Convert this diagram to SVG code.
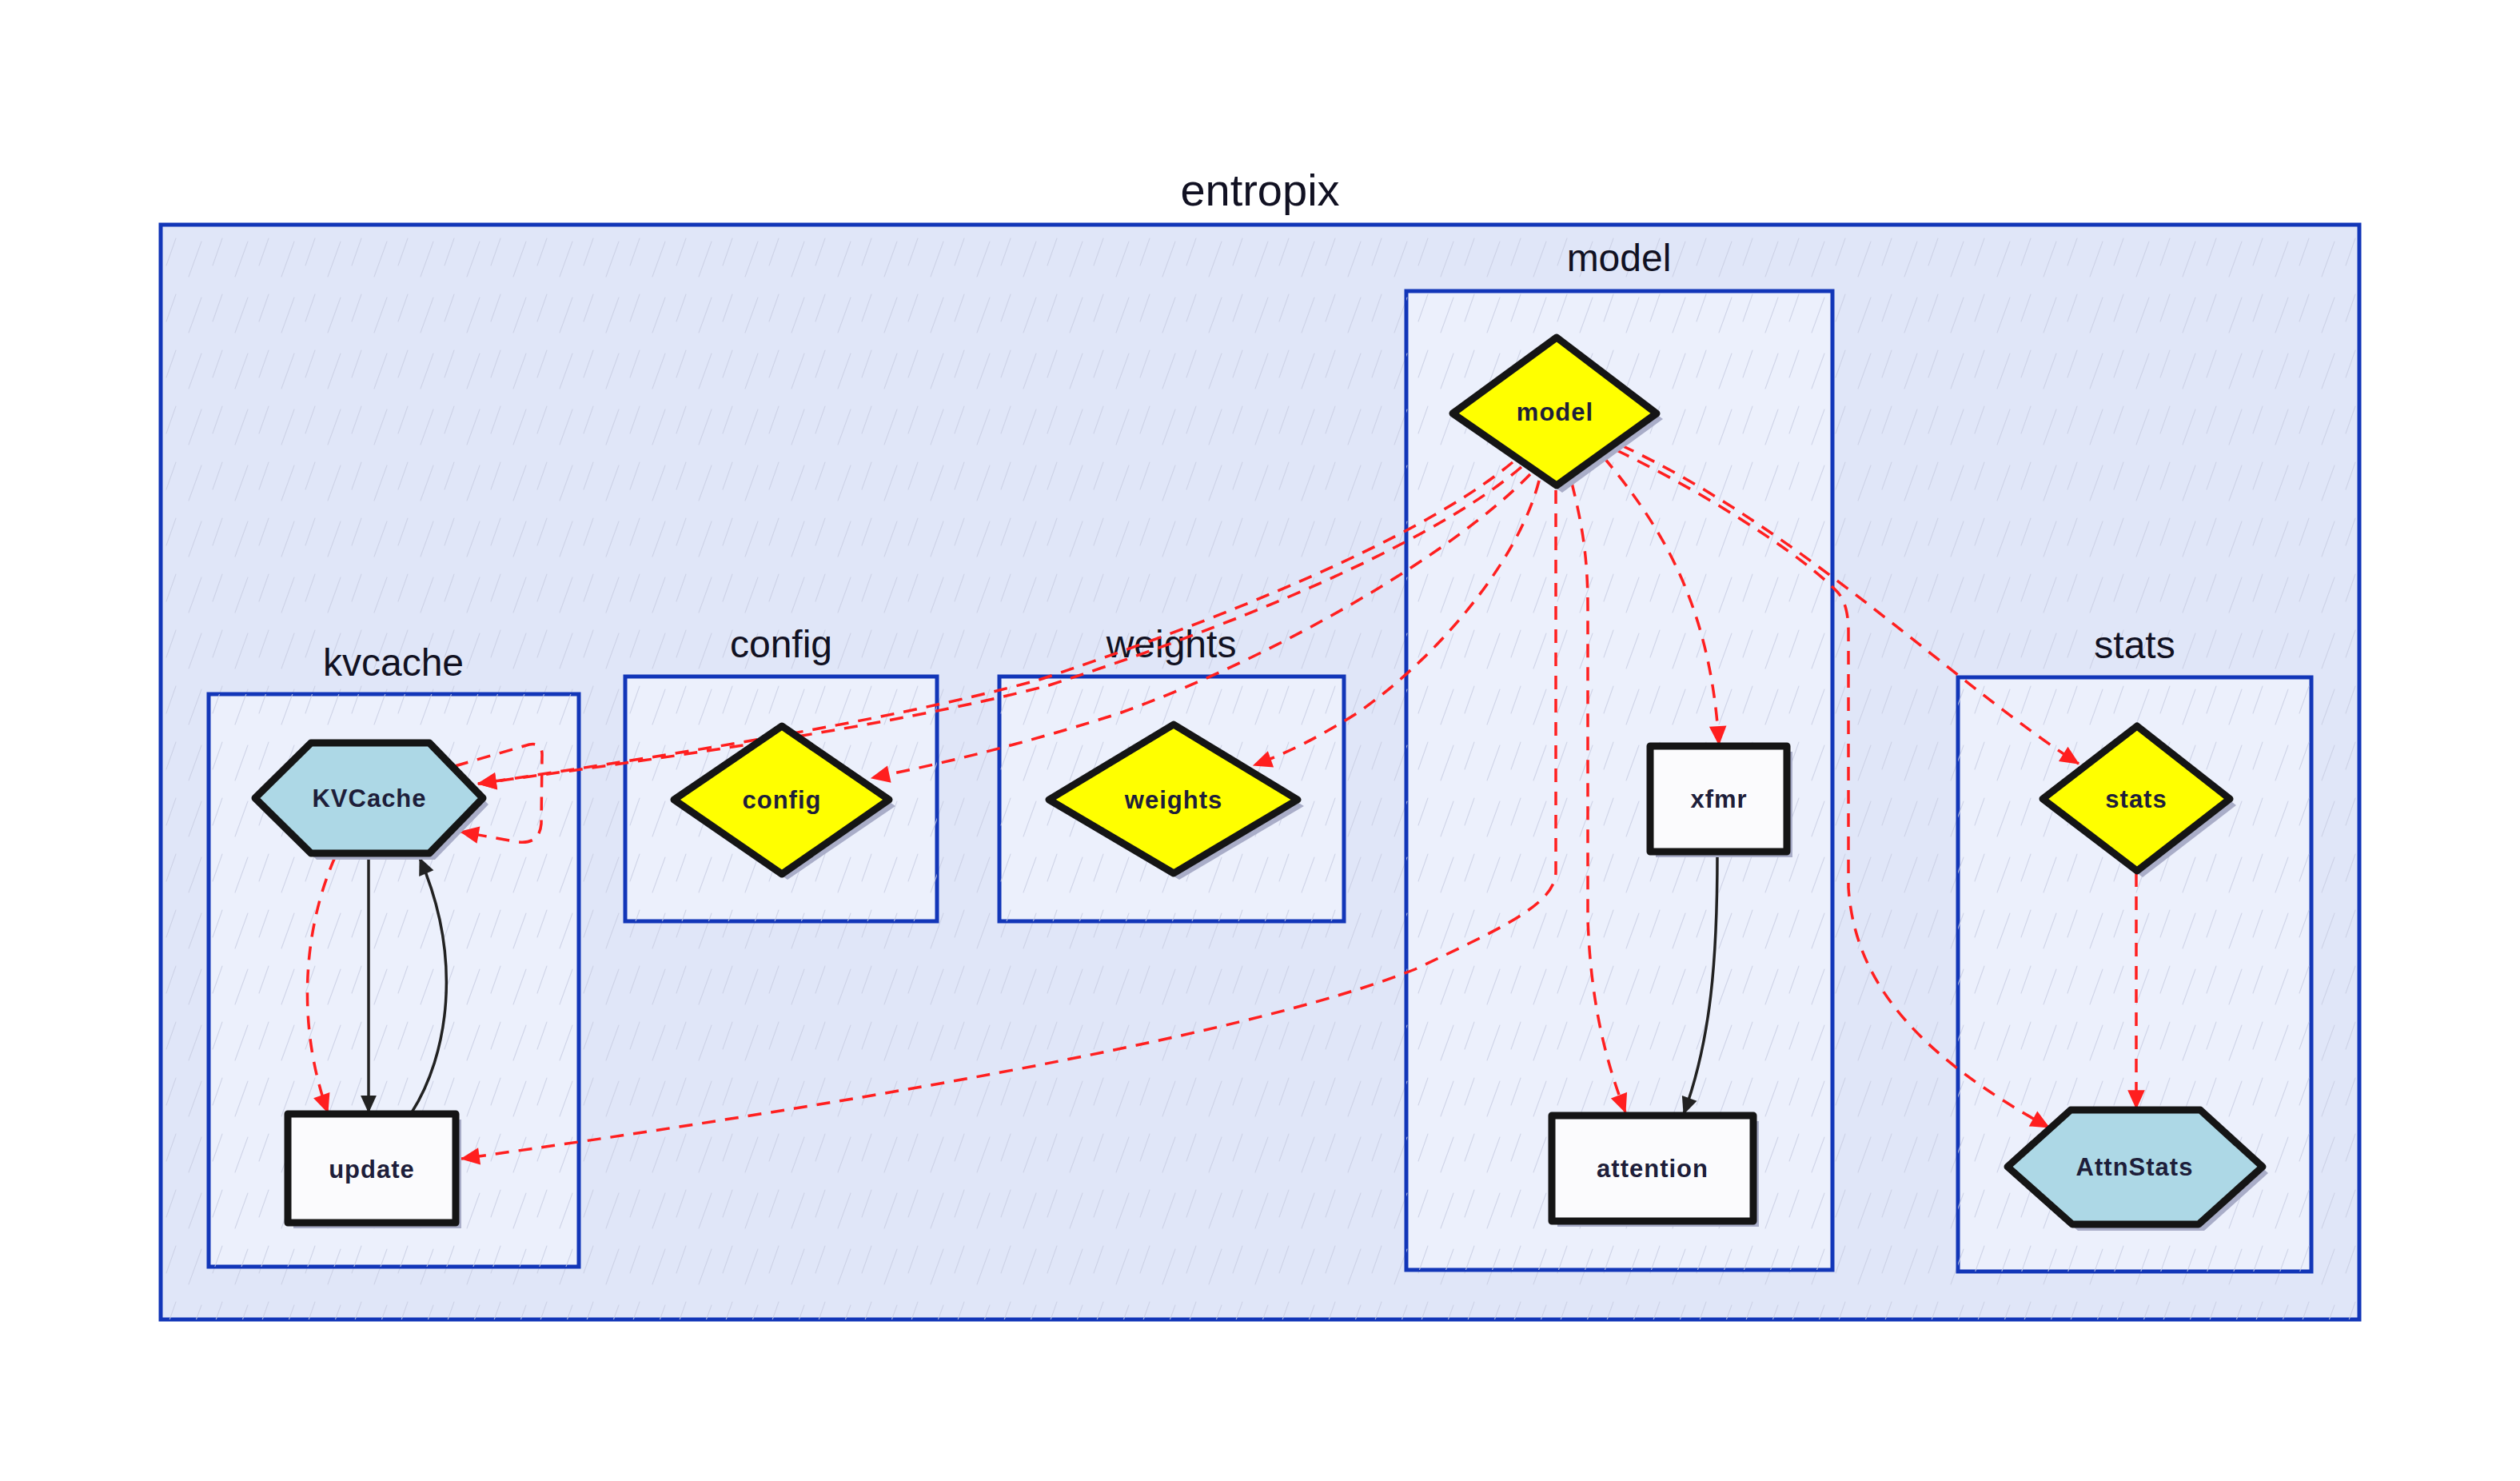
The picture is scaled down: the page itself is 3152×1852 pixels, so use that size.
<svg xmlns="http://www.w3.org/2000/svg" width="3152" height="1852" viewBox="0 0 3152 1852">
<defs>
<pattern id="hatch" patternUnits="userSpaceOnUse" width="58" height="70">
<path d="M4,66 L20,22 M34,52 L46,18" stroke="#c8cde2" stroke-width="1.1" fill="none" stroke-linecap="round"/>
</pattern>
<marker id="ar" viewBox="0 0 10 10" refX="9.5" refY="5" markerUnits="userSpaceOnUse" markerWidth="26" markerHeight="24" orient="auto">
<path d="M0,0.5 L10,5 L0,9.5 z" fill="#ff1f1f"/>
</marker>
<marker id="ak" viewBox="0 0 10 10" refX="9.5" refY="5" markerUnits="userSpaceOnUse" markerWidth="24" markerHeight="22" orient="auto">
<path d="M0,0.5 L10,5 L0,9.5 z" fill="#222"/>
</marker>
<style>
.outer{fill:#e0e6f8;stroke:#1236b8;stroke-width:5}
.inner{fill:#ecf0fc;stroke:#1236b8;stroke-width:5}
.hatch{fill:url(#hatch);stroke:none;opacity:0.8}
.clabel{font-family:"Liberation Sans",Arial,sans-serif;font-size:48px;fill:#111122;text-anchor:middle}
.title{font-size:56px}
.nlabel{font-family:"Liberation Sans",Arial,sans-serif;font-size:31px;font-weight:bold;fill:#1e1e3a;text-anchor:middle;dominant-baseline:central;letter-spacing:1px}
.shadow{fill:#a9adc8;stroke:none}
.node{stroke:#151515;stroke-width:9;stroke-linejoin:round}
.dia{fill:#ffff00}
.hex{fill:#add8e6}
.box{fill:#fbfbfd}
.dash{fill:none;stroke:#ff1f1f;stroke-width:3.5;stroke-dasharray:17 12;marker-end:url(#ar)}
.solid{fill:none;stroke:#222;stroke-width:3.5;marker-end:url(#ak)}
</style>
</defs>
<rect width="3152" height="1852" fill="#ffffff"/>

<g id="cluster-entropix">
<rect class="outer" x="201" y="281" width="2750" height="1369"/>
<rect class="hatch" x="201" y="281" width="2750" height="1369"/>
<text class="clabel title" x="1576" y="257">entropix</text>
</g>
<g id="cluster-kvcache">
<rect class="inner" x="261" y="868" width="463" height="716"/>
<rect class="hatch" x="261" y="868" width="463" height="716"/>
<text class="clabel" x="492" y="845">kvcache</text>
</g>
<g id="cluster-config">
<rect class="inner" x="782" y="846" width="390" height="306"/>
<rect class="hatch" x="782" y="846" width="390" height="306"/>
<text class="clabel" x="977" y="822">config</text>
</g>
<g id="cluster-weights">
<rect class="inner" x="1250" y="846" width="431" height="306"/>
<rect class="hatch" x="1250" y="846" width="431" height="306"/>
<text class="clabel" x="1465" y="822">weights</text>
</g>
<g id="cluster-model">
<rect class="inner" x="1759" y="364" width="533" height="1224"/>
<rect class="hatch" x="1759" y="364" width="533" height="1224"/>
<text class="clabel" x="2025" y="339">model</text>
</g>
<g id="cluster-stats">
<rect class="inner" x="2449" y="847" width="442" height="743"/>
<rect class="hatch" x="2449" y="847" width="442" height="743"/>
<text class="clabel" x="2670" y="823">stats</text>
</g>

<g id="connectors">
<path class="dash" d="M1892,578 C1800,655 1600,750 1300,850 C1100,905 800,950 598,980"/>
<path class="dash" d="M1903,584 C1812,662 1612,760 1312,857 C1110,910 800,952 598,980"/>
<path class="dash" d="M569,958 L662,931 Q679,928 678,946 L677,1030 Q675,1056 648,1053 L576,1040"/>
<path class="dash" d="M1914,593 C1820,690 1600,820 1400,892 C1250,940 1150,960 1090,973"/>
<path class="dash" d="M1925,601 C1900,700 1800,820 1700,890 Q1630,935 1568,957"/>
<path class="dash" d="M1946,613 L1946,1090 C1946,1130 1880,1160 1770,1212 C1550,1300 1000,1390 577,1449"/>
<path class="dash" d="M1966,604 C1980,660 1986,700 1986,760 L1986,1150 C1990,1260 2010,1330 2033,1391"/>
<path class="dash" d="M2006,572 C2080,660 2140,760 2150,931"/>
<path class="dash" d="M2028,557 C2250,660 2450,860 2600,955"/>
<path class="dash" d="M2022,563 C2150,625 2260,700 2298,740 Q2312,755 2312,790 L2312,1110 C2320,1230 2400,1320 2563,1410"/>
<path class="dash" d="M2672,1092 L2672,1386"/>
<path class="dash" d="M419,1072 C380,1160 370,1280 410,1391"/>
<path class="solid" d="M461,1072 L461,1391"/>
<path class="solid" d="M515,1391 C560,1320 580,1200 525,1073"/>
<path class="solid" d="M2148,1067 C2148,1200 2140,1300 2106,1393"/>
</g>

<g id="node-model">
<path class="shadow" d="M1824,524 L1954,431 L2080,524 L1954,616 z"/>
<path class="node dia" d="M1817,517 L1947,422 L2072,517 L1947,607 z"/>
<text class="nlabel" x="1945" y="515">model</text>
</g>
<g id="node-KVCache">
<path class="shadow" d="M326,1006 L396,937 L544,937 L611,1006 L544,1075 L396,1075 z"/>
<path class="node hex" d="M319,998 L389,929 L537,929 L604,998 L537,1067 L389,1067 z"/>
<text class="nlabel" x="462" y="998">KVCache</text>
</g>
<g id="node-update">
<rect class="shadow" x="367" y="1400" width="210" height="136"/>
<rect class="node box" x="360" y="1393" width="210" height="136"/>
<text class="nlabel" x="465" y="1462">update</text>
</g>
<g id="node-config">
<path class="shadow" d="M850,1008 L985,915 L1120,1008 L985,1100 z"/>
<path class="node dia" d="M843,1000 L978,908 L1112,1000 L978,1093 z"/>
<text class="nlabel" x="978" y="1000">config</text>
</g>
<g id="node-weights">
<path class="shadow" d="M1319,1008 L1475,914 L1631,1008 L1475,1100 z"/>
<path class="node dia" d="M1312,1000 L1468,906 L1623,1000 L1468,1092 z"/>
<text class="nlabel" x="1468" y="1000">weights</text>
</g>
<g id="node-xfmr">
<rect class="shadow" x="2071" y="940" width="171" height="132"/>
<rect class="node box" x="2064" y="933" width="171" height="132"/>
<text class="nlabel" x="2150" y="999">xfmr</text>
</g>
<g id="node-attention">
<rect class="shadow" x="1948" y="1402" width="252" height="132"/>
<rect class="node box" x="1941" y="1395" width="252" height="132"/>
<text class="nlabel" x="2067" y="1461">attention</text>
</g>
<g id="node-stats">
<path class="shadow" d="M2562,1007 L2680,916 L2797,1007 L2680,1097 z"/>
<path class="node dia" d="M2555,999 L2673,908 L2789,999 L2673,1089 z"/>
<text class="nlabel" x="2672" y="999">stats</text>
</g>
<g id="node-AttnStats">
<path class="shadow" d="M2518,1467 L2597,1396 L2759,1396 L2837,1467 L2757,1539 L2599,1539 z"/>
<path class="node hex" d="M2511,1459 L2590,1388 L2752,1388 L2830,1459 L2750,1531 L2592,1531 z"/>
<text class="nlabel" x="2670" y="1459">AttnStats</text>
</g>
</svg>
